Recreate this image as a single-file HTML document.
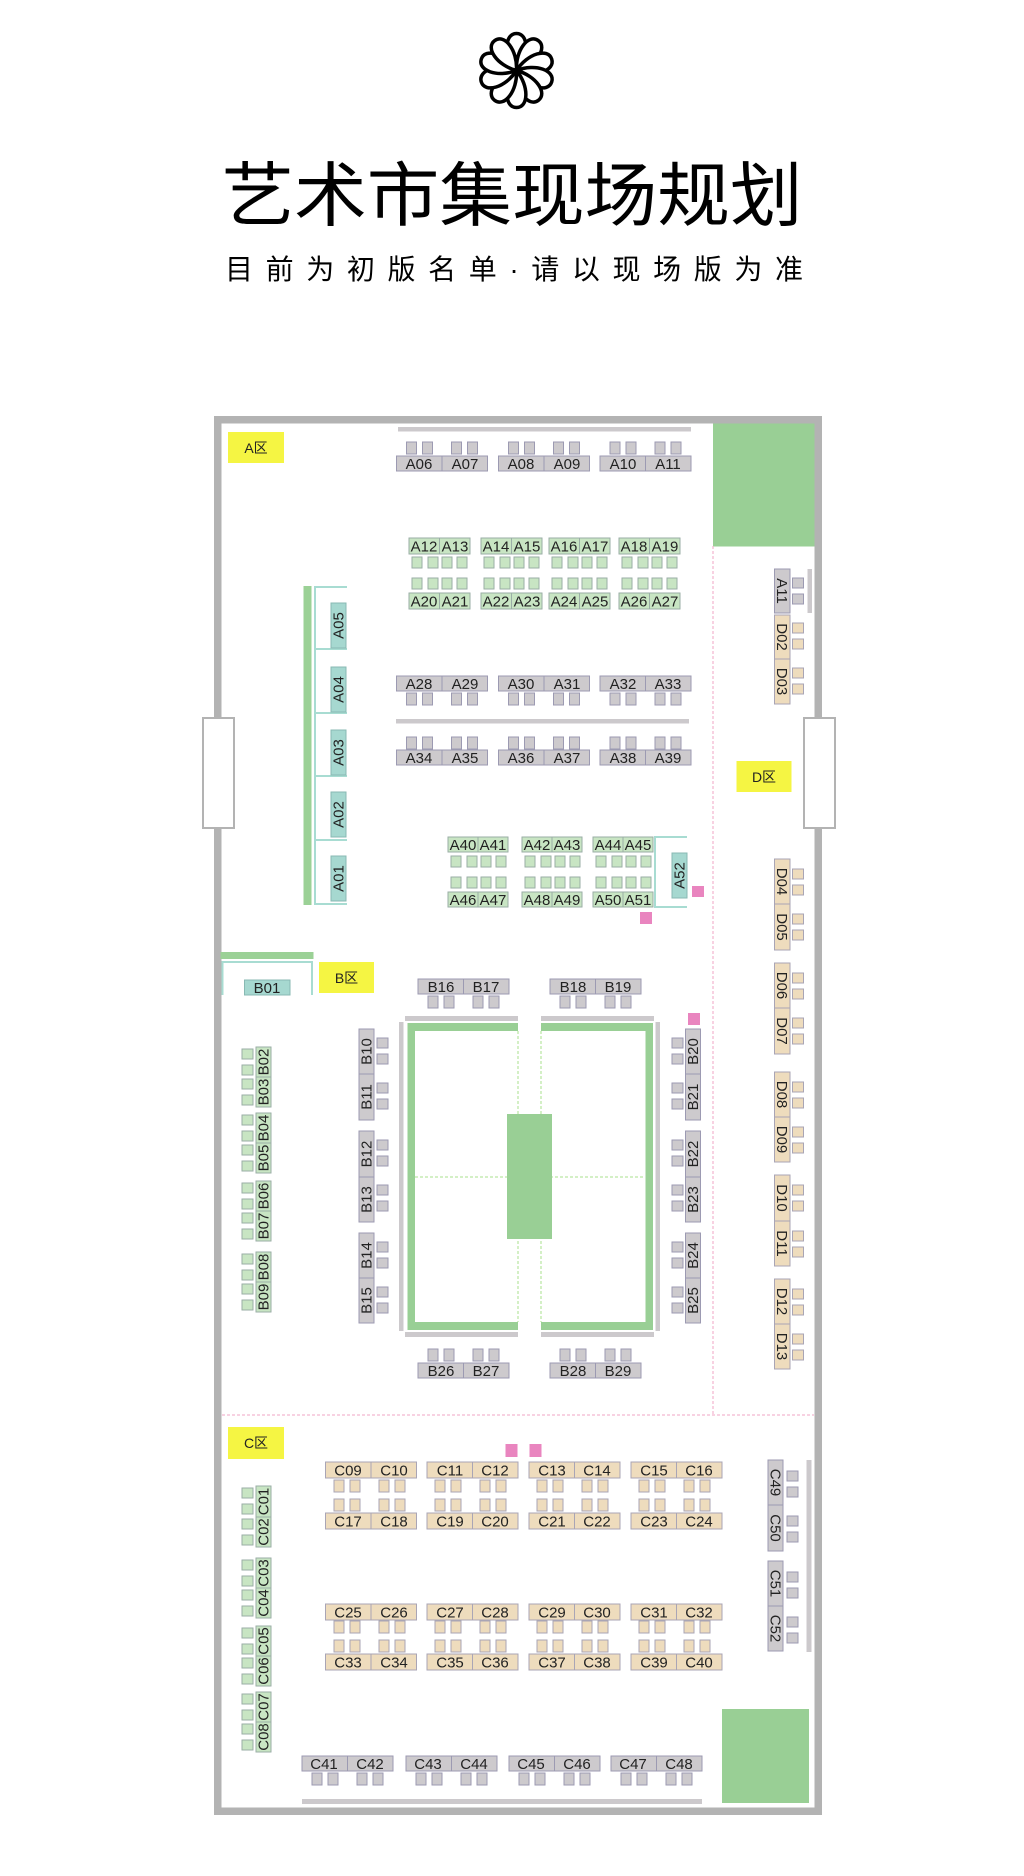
<!DOCTYPE html>
<html><head><meta charset="utf-8"><style>
html,body{margin:0;padding:0;background:#fff;width:1024px;height:1876px;overflow:hidden}
svg{display:block}
.g{fill:#cdcacd;stroke:#9c9ab2;stroke-width:1}
.gr{fill:#c8e5c3;stroke:#9aaea6;stroke-width:1}
.t{fill:#a6d8d0;stroke:#88b9b3;stroke-width:1}
.b{fill:#eedcbd;stroke:#a9a5b5;stroke-width:1}
text.l{font-family:"Liberation Sans",sans-serif;font-size:15px;fill:#222;text-anchor:middle}
.ln{stroke:#a8dcd2;stroke-width:2;fill:none}
.bar{fill:#ccc9cc}
.big{fill:#99cf95}
.pk{fill:#e985bf}
.yl{fill:#f5f543}
text.z{font-family:"Liberation Sans","Noto Sans CJK SC",sans-serif;font-size:14px;fill:#222;text-anchor:middle}
</style></head><body>
<svg width="1024" height="1876" viewBox="0 0 1024 1876" xmlns="http://www.w3.org/2000/svg">
<defs>
<g id="ch4"><rect x="10" y="0" width="10" height="12"/><rect x="26" y="0" width="10" height="12"/><rect x="55" y="0" width="10" height="12"/><rect x="71" y="0" width="10" height="12"/></g>
<g id="chg"><rect x="3" y="0" width="10" height="11"/><rect x="19" y="0" width="10" height="11"/><rect x="33" y="0" width="10" height="11"/><rect x="48" y="0" width="10" height="11"/></g>
<g id="chv"><rect x="0" y="9" width="11" height="10"/><rect x="0" y="25" width="11" height="10"/></g>
<g id="chb"><rect x="0" y="2" width="11" height="10"/><rect x="0" y="18" width="11" height="10"/></g>
<path id="pet" d="M0,0 C-13,-16 -12,-37 0,-37 C12,-37 13,-16 0,0 Z"/>
</defs>

<g transform="translate(516.5,70.5)" fill="#fff" stroke="#000" stroke-width="3.5" stroke-linejoin="round">
<use href="#pet" transform="rotate(0)"/><use href="#pet" transform="rotate(36)"/><use href="#pet" transform="rotate(72)"/><use href="#pet" transform="rotate(108)"/><use href="#pet" transform="rotate(144)"/><use href="#pet" transform="rotate(180)"/><use href="#pet" transform="rotate(216)"/><use href="#pet" transform="rotate(252)"/><use href="#pet" transform="rotate(288)"/><use href="#pet" transform="rotate(324)"/>
</g>

<text x="512" y="220" text-anchor="middle" textLength="581" lengthAdjust="spacingAndGlyphs" style="font-family:'Liberation Sans','Noto Sans CJK SC',sans-serif;font-size:70px;font-weight:400;fill:#000">艺术市集现场规划</text>
<text x="514" y="279" text-anchor="middle" textLength="578" lengthAdjust="spacing" style="font-family:'Liberation Sans','Noto Sans CJK SC',sans-serif;font-size:28px;fill:#000">目前为初版名单·请以现场版为准</text>

<rect x="217.75" y="419.75" width="600.5" height="1391.5" fill="#fff" stroke="#b3b3b3" stroke-width="7.5"/>
<rect x="713" y="423.5" width="101.5" height="123" class="big"/>
<rect x="722" y="1709" width="87" height="94" class="big"/>
<line x1="713" y1="546" x2="713" y2="1415" stroke="#f0a6c6" stroke-width="1" stroke-dasharray="3,2"/>
<line x1="222" y1="1415" x2="814" y2="1415" stroke="#f0a6c6" stroke-width="1" stroke-dasharray="3,2"/>
<rect x="203" y="718" width="31" height="110" fill="#fff" stroke="#b3b3b3" stroke-width="2"/>
<rect x="804" y="718" width="31" height="110" fill="#fff" stroke="#b3b3b3" stroke-width="2"/>

<rect x="228" y="432" width="56" height="31" class="yl"/><text class="z" x="256" y="453">A区</text>
<rect x="736.5" y="761" width="55" height="31" class="yl"/><text class="z" x="764" y="782">D区</text>
<rect x="319" y="962" width="55" height="31" class="yl"/><text class="z" x="346.5" y="983">B区</text>
<rect x="228" y="1427" width="56" height="32" class="yl"/><text class="z" x="256" y="1448">C区</text>

<rect x="398" y="427" width="293" height="4.5" class="bar"/>
<rect x="396" y="719" width="293" height="4.5" class="bar"/>

<use href="#ch4" x="396.5" y="442" class="g"/><use href="#ch4" x="498.5" y="442" class="g"/><use href="#ch4" x="600" y="442" class="g"/>
<rect x="396.5" y="456" width="45.5" height="15" class="g"/><rect x="442" y="456" width="45.5" height="15" class="g"/>
<rect x="498.5" y="456" width="45.5" height="15" class="g"/><rect x="544" y="456" width="45.5" height="15" class="g"/>
<rect x="600" y="456" width="45.5" height="15" class="g"/><rect x="645.5" y="456" width="45.5" height="15" class="g"/>
<text class="l" x="419" y="469">A06</text><text class="l" x="465" y="469">A07</text>
<text class="l" x="521" y="469">A08</text><text class="l" x="567" y="469">A09</text>
<text class="l" x="623" y="469">A10</text><text class="l" x="668" y="469">A11</text>

<rect x="396.5" y="676" width="45.5" height="15" class="g"/><rect x="442" y="676" width="45.5" height="15" class="g"/>
<rect x="498.5" y="676" width="45.5" height="15" class="g"/><rect x="544" y="676" width="45.5" height="15" class="g"/>
<rect x="600" y="676" width="45.5" height="15" class="g"/><rect x="645.5" y="676" width="45.5" height="15" class="g"/>
<text class="l" x="419" y="689">A28</text><text class="l" x="465" y="689">A29</text>
<text class="l" x="521" y="689">A30</text><text class="l" x="567" y="689">A31</text>
<text class="l" x="623" y="689">A32</text><text class="l" x="668" y="689">A33</text>
<use href="#ch4" x="396.5" y="693" class="g"/><use href="#ch4" x="498.5" y="693" class="g"/><use href="#ch4" x="600" y="693" class="g"/>

<use href="#ch4" x="396.5" y="737" class="g"/><use href="#ch4" x="498.5" y="737" class="g"/><use href="#ch4" x="600" y="737" class="g"/>
<rect x="396.5" y="750" width="45.5" height="15" class="g"/><rect x="442" y="750" width="45.5" height="15" class="g"/>
<rect x="498.5" y="750" width="45.5" height="15" class="g"/><rect x="544" y="750" width="45.5" height="15" class="g"/>
<rect x="600" y="750" width="45.5" height="15" class="g"/><rect x="645.5" y="750" width="45.5" height="15" class="g"/>
<text class="l" x="419" y="763">A34</text><text class="l" x="465" y="763">A35</text>
<text class="l" x="521" y="763">A36</text><text class="l" x="567" y="763">A37</text>
<text class="l" x="623" y="763">A38</text><text class="l" x="668" y="763">A39</text>

<rect x="409" y="538" width="30.5" height="16" class="gr"/><rect x="439.5" y="538" width="30.5" height="16" class="gr"/>
<rect x="481" y="538" width="30.5" height="16" class="gr"/><rect x="511.5" y="538" width="30.5" height="16" class="gr"/>
<rect x="549" y="538" width="30.5" height="16" class="gr"/><rect x="579.5" y="538" width="30.5" height="16" class="gr"/>
<rect x="619" y="538" width="30.5" height="16" class="gr"/><rect x="649.5" y="538" width="30.5" height="16" class="gr"/>
<text class="l" x="424" y="551.5">A12</text><text class="l" x="455" y="551.5">A13</text>
<text class="l" x="496" y="551.5">A14</text><text class="l" x="527" y="551.5">A15</text>
<text class="l" x="564" y="551.5">A16</text><text class="l" x="595" y="551.5">A17</text>
<text class="l" x="634" y="551.5">A18</text><text class="l" x="665" y="551.5">A19</text>
<use href="#chg" x="409" y="557" class="gr"/><use href="#chg" x="481" y="557" class="gr"/><use href="#chg" x="549" y="557" class="gr"/><use href="#chg" x="619" y="557" class="gr"/>
<use href="#chg" x="409" y="578" class="gr"/><use href="#chg" x="481" y="578" class="gr"/><use href="#chg" x="549" y="578" class="gr"/><use href="#chg" x="619" y="578" class="gr"/>
<rect x="409" y="593" width="30.5" height="16" class="gr"/><rect x="439.5" y="593" width="30.5" height="16" class="gr"/>
<rect x="481" y="593" width="30.5" height="16" class="gr"/><rect x="511.5" y="593" width="30.5" height="16" class="gr"/>
<rect x="549" y="593" width="30.5" height="16" class="gr"/><rect x="579.5" y="593" width="30.5" height="16" class="gr"/>
<rect x="619" y="593" width="30.5" height="16" class="gr"/><rect x="649.5" y="593" width="30.5" height="16" class="gr"/>
<text class="l" x="424" y="606.5">A20</text><text class="l" x="455" y="606.5">A21</text>
<text class="l" x="496" y="606.5">A22</text><text class="l" x="527" y="606.5">A23</text>
<text class="l" x="564" y="606.5">A24</text><text class="l" x="595" y="606.5">A25</text>
<text class="l" x="634" y="606.5">A26</text><text class="l" x="665" y="606.5">A27</text>

<rect x="448" y="837" width="30" height="15" class="gr"/><rect x="478" y="837" width="30" height="15" class="gr"/>
<rect x="522" y="837" width="30" height="15" class="gr"/><rect x="552" y="837" width="30" height="15" class="gr"/>
<rect x="593" y="837" width="30" height="15" class="gr"/><rect x="623" y="837" width="30" height="15" class="gr"/>
<text class="l" x="463" y="850">A40</text><text class="l" x="493" y="850">A41</text>
<text class="l" x="537" y="850">A42</text><text class="l" x="567" y="850">A43</text>
<text class="l" x="608" y="850">A44</text><text class="l" x="638" y="850">A45</text>
<use href="#chg" x="448" y="856" class="gr"/><use href="#chg" x="522" y="856" class="gr"/><use href="#chg" x="593" y="856" class="gr"/>
<use href="#chg" x="448" y="877" class="gr"/><use href="#chg" x="522" y="877" class="gr"/><use href="#chg" x="593" y="877" class="gr"/>
<rect x="448" y="892" width="30" height="15" class="gr"/><rect x="478" y="892" width="30" height="15" class="gr"/>
<rect x="522" y="892" width="30" height="15" class="gr"/><rect x="552" y="892" width="30" height="15" class="gr"/>
<rect x="593" y="892" width="30" height="15" class="gr"/><rect x="623" y="892" width="30" height="15" class="gr"/>
<text class="l" x="463" y="905">A46</text><text class="l" x="493" y="905">A47</text>
<text class="l" x="537" y="905">A48</text><text class="l" x="567" y="905">A49</text>
<text class="l" x="608" y="905">A50</text><text class="l" x="638" y="905">A51</text>

<path class="ln" d="M687,837 H655 V907 H687"/>
<rect x="672" y="853" width="15" height="45" class="t"/>
<text class="l" transform="translate(679.5,875.5) rotate(-90)" y="5">A52</text>
<rect x="692" y="886" width="12" height="11" class="pk"/>
<rect x="640" y="912" width="12" height="12" class="pk"/>

<rect x="303.5" y="586" width="8" height="319" fill="#9bd196"/>
<path class="ln" d="M347,587 H315 V904 H347 M315,649 H347 M315,713 H347 M315,776 H347 M315,840 H347"/>
<rect x="331" y="603" width="15" height="45" class="t"/><text class="l" transform="translate(338.5,625.5) rotate(-90)" y="5">A05</text>
<rect x="331" y="667" width="15" height="45" class="t"/><text class="l" transform="translate(338.5,689.5) rotate(-90)" y="5">A04</text>
<rect x="331" y="730" width="15" height="45" class="t"/><text class="l" transform="translate(338.5,752.5) rotate(-90)" y="5">A03</text>
<rect x="331" y="792" width="15" height="45" class="t"/><text class="l" transform="translate(338.5,814.5) rotate(-90)" y="5">A02</text>
<rect x="331" y="856" width="15" height="45" class="t"/><text class="l" transform="translate(338.5,878.5) rotate(-90)" y="5">A01</text>

<rect x="807.5" y="569" width="4.5" height="44" class="bar"/>
<rect x="774.5" y="569" width="15.5" height="44" class="g"/><text class="l" transform="translate(782,591) rotate(90)" y="5">A11</text>
<use href="#chv" x="792.5" y="569" class="g"/>
<rect x="774.5" y="615" width="15.5" height="44" class="b"/><text class="l" transform="translate(782,637) rotate(90)" y="5">D02</text>
<use href="#chv" x="792.5" y="614" class="b"/>
<rect x="774.5" y="659" width="15.5" height="45" class="b"/><text class="l" transform="translate(782,681.5) rotate(90)" y="5">D03</text>
<use href="#chv" x="792.5" y="659" class="b"/>

<rect x="774.5" y="859" width="15.5" height="45" class="b"/><text class="l" transform="translate(782,881.5) rotate(90)" y="5">D04</text><use href="#chv" x="792.5" y="860" class="b"/>
<rect x="774.5" y="904" width="15.5" height="46" class="b"/><text class="l" transform="translate(782,927) rotate(90)" y="5">D05</text><use href="#chv" x="792.5" y="905" class="b"/>
<rect x="774.5" y="963" width="15.5" height="45" class="b"/><text class="l" transform="translate(782,985.5) rotate(90)" y="5">D06</text><use href="#chv" x="792.5" y="964" class="b"/>
<rect x="774.5" y="1008" width="15.5" height="46" class="b"/><text class="l" transform="translate(782,1031) rotate(90)" y="5">D07</text><use href="#chv" x="792.5" y="1009" class="b"/>
<rect x="774.5" y="1072" width="15.5" height="45" class="b"/><text class="l" transform="translate(782,1094.5) rotate(90)" y="5">D08</text><use href="#chv" x="792.5" y="1073" class="b"/>
<rect x="774.5" y="1117" width="15.5" height="45" class="b"/><text class="l" transform="translate(782,1139.5) rotate(90)" y="5">D09</text><use href="#chv" x="792.5" y="1118" class="b"/>
<rect x="774.5" y="1175" width="15.5" height="46" class="b"/><text class="l" transform="translate(782,1198) rotate(90)" y="5">D10</text><use href="#chv" x="792.5" y="1176" class="b"/>
<rect x="774.5" y="1221" width="15.5" height="45" class="b"/><text class="l" transform="translate(782,1243.5) rotate(90)" y="5">D11</text><use href="#chv" x="792.5" y="1222" class="b"/>
<rect x="774.5" y="1279" width="15.5" height="45" class="b"/><text class="l" transform="translate(782,1301.5) rotate(90)" y="5">D12</text><use href="#chv" x="792.5" y="1280" class="b"/>
<rect x="774.5" y="1324" width="15.5" height="45" class="b"/><text class="l" transform="translate(782,1346.5) rotate(90)" y="5">D13</text><use href="#chv" x="792.5" y="1325" class="b"/>

<rect x="220.5" y="952" width="93" height="7" fill="#9bd196"/>
<path class="ln" d="M222.5,995 V962 H312 V995"/>
<rect x="244.5" y="980" width="45.5" height="15" class="t"/><text class="l" x="267" y="993">B01</text>

<rect x="256" y="1047" width="15" height="30" class="gr"/><text class="l" transform="translate(263.5,1062) rotate(-90)" y="5">B02</text>
<rect x="256" y="1077" width="15" height="30" class="gr"/><text class="l" transform="translate(263.5,1092) rotate(-90)" y="5">B03</text>
<use href="#chb" x="242" y="1047" class="gr"/><use href="#chb" x="242" y="1077" class="gr"/>
<rect x="256" y="1113" width="15" height="30" class="gr"/><text class="l" transform="translate(263.5,1128) rotate(-90)" y="5">B04</text>
<rect x="256" y="1143" width="15" height="30" class="gr"/><text class="l" transform="translate(263.5,1158) rotate(-90)" y="5">B05</text>
<use href="#chb" x="242" y="1113" class="gr"/><use href="#chb" x="242" y="1143" class="gr"/>
<rect x="256" y="1181" width="15" height="30" class="gr"/><text class="l" transform="translate(263.5,1196) rotate(-90)" y="5">B06</text>
<rect x="256" y="1211" width="15" height="30" class="gr"/><text class="l" transform="translate(263.5,1226) rotate(-90)" y="5">B07</text>
<use href="#chb" x="242" y="1181" class="gr"/><use href="#chb" x="242" y="1211" class="gr"/>
<rect x="256" y="1252" width="15" height="30" class="gr"/><text class="l" transform="translate(263.5,1267) rotate(-90)" y="5">B08</text>
<rect x="256" y="1282" width="15" height="30" class="gr"/><text class="l" transform="translate(263.5,1297) rotate(-90)" y="5">B09</text>
<use href="#chb" x="242" y="1252" class="gr"/><use href="#chb" x="242" y="1282" class="gr"/>

<rect x="405" y="1016" width="113" height="5" class="bar"/><rect x="541" y="1016" width="113" height="5" class="bar"/>
<rect x="405" y="1332" width="113" height="5" class="bar"/><rect x="541" y="1332" width="113" height="5" class="bar"/>
<rect x="399" y="1022" width="4.5" height="309" class="bar"/><rect x="655.5" y="1022" width="4.5" height="309" class="bar"/>
<rect x="407.5" y="1023" width="110.5" height="8" class="big"/><rect x="407.5" y="1023" width="7.5" height="307" class="big"/><rect x="407.5" y="1322" width="110.5" height="8" class="big"/>
<rect x="541" y="1023" width="112" height="8" class="big"/><rect x="645.5" y="1023" width="7.5" height="307" class="big"/><rect x="541" y="1322" width="112" height="8" class="big"/>
<g stroke="#a8e08c" stroke-width="1" stroke-dasharray="3,2" fill="none">
<line x1="518" y1="1031" x2="518" y2="1322"/><line x1="541" y1="1031" x2="541" y2="1322"/>
<line x1="415" y1="1177" x2="645" y2="1177"/></g>
<rect x="507" y="1114" width="45" height="125" class="big"/>

<rect x="418" y="979" width="45.5" height="15" class="g"/><rect x="463.5" y="979" width="45.5" height="15" class="g"/>
<rect x="550" y="979" width="45.5" height="15" class="g"/><rect x="595.5" y="979" width="45.5" height="15" class="g"/>
<text class="l" x="441" y="992">B16</text><text class="l" x="486" y="992">B17</text>
<text class="l" x="573" y="992">B18</text><text class="l" x="618" y="992">B19</text>
<use href="#ch4" x="418" y="996" class="g"/><use href="#ch4" x="550" y="996" class="g"/>
<use href="#ch4" x="418" y="1349" class="g"/><use href="#ch4" x="550" y="1349" class="g"/>
<rect x="418" y="1363" width="45.5" height="15" class="g"/><rect x="463.5" y="1363" width="45.5" height="15" class="g"/>
<rect x="550" y="1363" width="45.5" height="15" class="g"/><rect x="595.5" y="1363" width="45.5" height="15" class="g"/>
<text class="l" x="441" y="1376">B26</text><text class="l" x="486" y="1376">B27</text>
<text class="l" x="573" y="1376">B28</text><text class="l" x="618" y="1376">B29</text>

<rect x="359" y="1029" width="15" height="45" class="g"/><text class="l" transform="translate(366.5,1051.5) rotate(-90)" y="5">B10</text><use href="#chv" x="377" y="1029" class="g"/>
<rect x="359" y="1074" width="15" height="46" class="g"/><text class="l" transform="translate(366.5,1097) rotate(-90)" y="5">B11</text><use href="#chv" x="377" y="1074" class="g"/>
<rect x="359" y="1131" width="15" height="46" class="g"/><text class="l" transform="translate(366.5,1154) rotate(-90)" y="5">B12</text><use href="#chv" x="377" y="1131" class="g"/>
<rect x="359" y="1177" width="15" height="45" class="g"/><text class="l" transform="translate(366.5,1199.5) rotate(-90)" y="5">B13</text><use href="#chv" x="377" y="1176" class="g"/>
<rect x="359" y="1233" width="15" height="45" class="g"/><text class="l" transform="translate(366.5,1255.5) rotate(-90)" y="5">B14</text><use href="#chv" x="377" y="1233" class="g"/>
<rect x="359" y="1278" width="15" height="45" class="g"/><text class="l" transform="translate(366.5,1300.5) rotate(-90)" y="5">B15</text><use href="#chv" x="377" y="1278" class="g"/>
<rect x="688" y="1013" width="12" height="12" class="pk"/>
<rect x="685.5" y="1029" width="15" height="45" class="g"/><text class="l" transform="translate(693,1051.5) rotate(-90)" y="5">B20</text><use href="#chv" x="672" y="1029" class="g"/>
<rect x="685.5" y="1074" width="15" height="46" class="g"/><text class="l" transform="translate(693,1097) rotate(-90)" y="5">B21</text><use href="#chv" x="672" y="1074" class="g"/>
<rect x="685.5" y="1131" width="15" height="46" class="g"/><text class="l" transform="translate(693,1154) rotate(-90)" y="5">B22</text><use href="#chv" x="672" y="1131" class="g"/>
<rect x="685.5" y="1177" width="15" height="45" class="g"/><text class="l" transform="translate(693,1199.5) rotate(-90)" y="5">B23</text><use href="#chv" x="672" y="1176" class="g"/>
<rect x="685.5" y="1233" width="15" height="45" class="g"/><text class="l" transform="translate(693,1255.5) rotate(-90)" y="5">B24</text><use href="#chv" x="672" y="1233" class="g"/>
<rect x="685.5" y="1278" width="15" height="45" class="g"/><text class="l" transform="translate(693,1300.5) rotate(-90)" y="5">B25</text><use href="#chv" x="672" y="1278" class="g"/>

<rect x="505.5" y="1444" width="12" height="13" class="pk"/><rect x="529.5" y="1444" width="12" height="13" class="pk"/>
<g id="crow1">
<rect x="325.5" y="1462" width="45.5" height="16" class="b"/><rect x="371" y="1462" width="45.5" height="16" class="b"/>
<rect x="427" y="1462" width="45.5" height="16" class="b"/><rect x="472.5" y="1462" width="45.5" height="16" class="b"/>
<rect x="529" y="1462" width="45.5" height="16" class="b"/><rect x="574.5" y="1462" width="45.5" height="16" class="b"/>
<rect x="631" y="1462" width="45.5" height="16" class="b"/><rect x="676.5" y="1462" width="45.5" height="16" class="b"/>
</g>
<text class="l" x="348" y="1475.5">C09</text><text class="l" x="394" y="1475.5">C10</text>
<text class="l" x="450" y="1475.5">C11</text><text class="l" x="495" y="1475.5">C12</text>
<text class="l" x="552" y="1475.5">C13</text><text class="l" x="597" y="1475.5">C14</text>
<text class="l" x="654" y="1475.5">C15</text><text class="l" x="699" y="1475.5">C16</text>
<use href="#ch4" x="324" y="1480" class="b"/><use href="#ch4" x="425" y="1480" class="b"/><use href="#ch4" x="527" y="1480" class="b"/><use href="#ch4" x="629" y="1480" class="b"/>
<use href="#ch4" x="324" y="1499" class="b"/><use href="#ch4" x="425" y="1499" class="b"/><use href="#ch4" x="527" y="1499" class="b"/><use href="#ch4" x="629" y="1499" class="b"/>
<use href="#crow1" y="51"/>
<text class="l" x="348" y="1526.5">C17</text><text class="l" x="394" y="1526.5">C18</text>
<text class="l" x="450" y="1526.5">C19</text><text class="l" x="495" y="1526.5">C20</text>
<text class="l" x="552" y="1526.5">C21</text><text class="l" x="597" y="1526.5">C22</text>
<text class="l" x="654" y="1526.5">C23</text><text class="l" x="699" y="1526.5">C24</text>

<use href="#crow1" y="142"/>
<text class="l" x="348" y="1617.5">C25</text><text class="l" x="394" y="1617.5">C26</text>
<text class="l" x="450" y="1617.5">C27</text><text class="l" x="495" y="1617.5">C28</text>
<text class="l" x="552" y="1617.5">C29</text><text class="l" x="597" y="1617.5">C30</text>
<text class="l" x="654" y="1617.5">C31</text><text class="l" x="699" y="1617.5">C32</text>
<use href="#ch4" x="324" y="1621" class="b"/><use href="#ch4" x="425" y="1621" class="b"/><use href="#ch4" x="527" y="1621" class="b"/><use href="#ch4" x="629" y="1621" class="b"/>
<use href="#ch4" x="324" y="1640" class="b"/><use href="#ch4" x="425" y="1640" class="b"/><use href="#ch4" x="527" y="1640" class="b"/><use href="#ch4" x="629" y="1640" class="b"/>
<use href="#crow1" y="192"/>
<text class="l" x="348" y="1667.5">C33</text><text class="l" x="394" y="1667.5">C34</text>
<text class="l" x="450" y="1667.5">C35</text><text class="l" x="495" y="1667.5">C36</text>
<text class="l" x="552" y="1667.5">C37</text><text class="l" x="597" y="1667.5">C38</text>
<text class="l" x="654" y="1667.5">C39</text><text class="l" x="699" y="1667.5">C40</text>

<rect x="256" y="1486" width="15" height="31" class="gr"/><text class="l" transform="translate(263.5,1501.5) rotate(-90)" y="5">C01</text>
<rect x="256" y="1517" width="15" height="30" class="gr"/><text class="l" transform="translate(263.5,1532) rotate(-90)" y="5">C02</text>
<use href="#chb" x="242" y="1486" class="gr"/><use href="#chb" x="242" y="1517" class="gr"/>
<rect x="256" y="1558" width="15" height="30" class="gr"/><text class="l" transform="translate(263.5,1573) rotate(-90)" y="5">C03</text>
<rect x="256" y="1588" width="15" height="30" class="gr"/><text class="l" transform="translate(263.5,1603) rotate(-90)" y="5">C04</text>
<use href="#chb" x="242" y="1558" class="gr"/><use href="#chb" x="242" y="1588" class="gr"/>
<rect x="256" y="1626" width="15" height="30" class="gr"/><text class="l" transform="translate(263.5,1641) rotate(-90)" y="5">C05</text>
<rect x="256" y="1656" width="15" height="30" class="gr"/><text class="l" transform="translate(263.5,1671) rotate(-90)" y="5">C06</text>
<use href="#chb" x="242" y="1626" class="gr"/><use href="#chb" x="242" y="1656" class="gr"/>
<rect x="256" y="1692" width="15" height="30" class="gr"/><text class="l" transform="translate(263.5,1707) rotate(-90)" y="5">C07</text>
<rect x="256" y="1722" width="15" height="30" class="gr"/><text class="l" transform="translate(263.5,1737) rotate(-90)" y="5">C08</text>
<use href="#chb" x="242" y="1692" class="gr"/><use href="#chb" x="242" y="1722" class="gr"/>

<rect x="806.5" y="1460" width="5" height="192" class="bar"/>
<rect x="768" y="1460" width="15" height="45" class="g"/><text class="l" transform="translate(775.5,1482.5) rotate(90)" y="5">C49</text><use href="#chv" x="787" y="1462" class="g"/>
<rect x="768" y="1505" width="15" height="46" class="g"/><text class="l" transform="translate(775.5,1528) rotate(90)" y="5">C50</text><use href="#chv" x="787" y="1507" class="g"/>
<rect x="768" y="1561" width="15" height="45" class="g"/><text class="l" transform="translate(775.5,1583.5) rotate(90)" y="5">C51</text><use href="#chv" x="787" y="1563" class="g"/>
<rect x="768" y="1606" width="15" height="45" class="g"/><text class="l" transform="translate(775.5,1628.5) rotate(90)" y="5">C52</text><use href="#chv" x="787" y="1608" class="g"/>

<rect x="302" y="1756" width="45.5" height="15" class="g"/><rect x="347.5" y="1756" width="45.5" height="15" class="g"/>
<rect x="406" y="1756" width="45.5" height="15" class="g"/><rect x="451.5" y="1756" width="45.5" height="15" class="g"/>
<rect x="509" y="1756" width="45.5" height="15" class="g"/><rect x="554.5" y="1756" width="45.5" height="15" class="g"/>
<rect x="611" y="1756" width="45.5" height="15" class="g"/><rect x="656.5" y="1756" width="45.5" height="15" class="g"/>
<text class="l" x="324" y="1769">C41</text><text class="l" x="370" y="1769">C42</text>
<text class="l" x="428" y="1769">C43</text><text class="l" x="474" y="1769">C44</text>
<text class="l" x="531" y="1769">C45</text><text class="l" x="577" y="1769">C46</text>
<text class="l" x="633" y="1769">C47</text><text class="l" x="679" y="1769">C48</text>
<use href="#ch4" x="302" y="1773" class="g"/><use href="#ch4" x="406" y="1773" class="g"/><use href="#ch4" x="509" y="1773" class="g"/><use href="#ch4" x="611" y="1773" class="g"/>
<rect x="302" y="1799" width="400" height="5" class="bar"/>
</svg>
</body></html>
